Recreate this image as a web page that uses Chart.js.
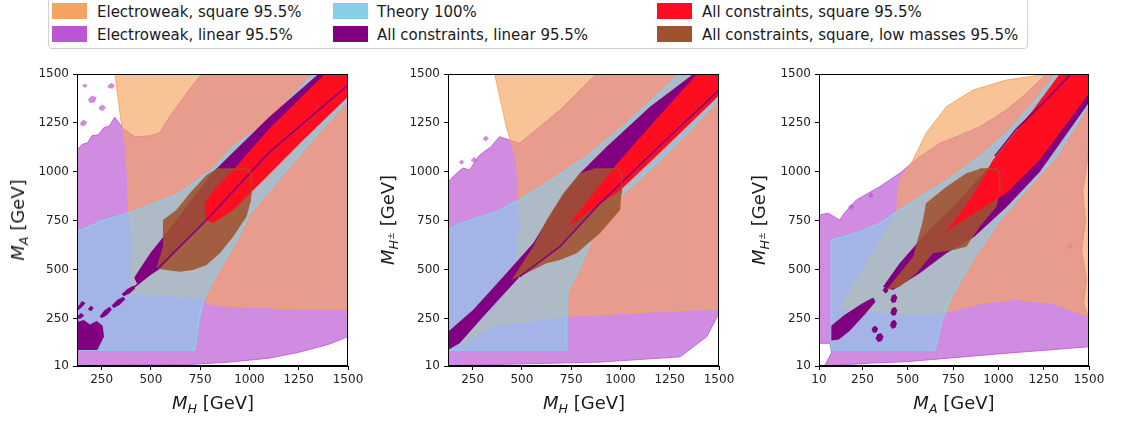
<!DOCTYPE html>
<html>
<head>
<meta charset="UTF-8">
<title>Mass planes</title>
<script src="https://cdn.jsdelivr.net/npm/chart.js"></script>
<style>
  body { margin:0; width:1121px; height:424px; background:#fff; position:relative; overflow:hidden;
         font-family:'DejaVu Sans', sans-serif; color:#1a1a1a; }
  canvas { position:absolute; top:60px; }
  .legend-box { position:absolute; left:48px; top:-9px; width:978px; height:56px;
                border:1px solid #d0d0d0; border-radius:4px; background:#fff; }
  .patch { position:absolute; width:35px; height:16px; }
  .ltext { position:absolute; font-size:15px; line-height:16px; white-space:nowrap; }
  .xtitle, .ytitle { position:absolute; font-size:18px; white-space:nowrap; line-height:20px; }
  .xtitle { top:393px; transform:translateX(-50%); }
  .ytitle { top:220px; transform:translate(-50%,-50%) rotate(-90deg); }
  sub { font-size:0.7em; vertical-align:-0.3em; line-height:0; }
  sup { font-size:0.75em; vertical-align:0.45em; line-height:0; }
</style>
</head>
<body>
<div class="legend-box"></div>
<div id="legend"></div>

<canvas id="p1" width="372" height="364" style="left:0px"></canvas>
<canvas id="p2" width="372" height="364" style="left:372px"></canvas>
<canvas id="p3" width="377" height="364" style="left:744px"></canvas>

<div class="xtitle" style="left:213px"><i>M</i><sub><i>H</i></sub> [GeV]</div>
<div class="xtitle" style="left:584px"><i>M</i><sub><i>H</i></sub> [GeV]</div>
<div class="xtitle" style="left:954px"><i>M</i><sub><i>A</i></sub> [GeV]</div>
<div class="ytitle" style="left:18px"><i>M</i><sub><i>A</i></sub> [GeV]</div>
<div class="ytitle" style="left:388px"><i>M</i><sub><i>H</i><sup>±</sup></sub> [GeV]</div>
<div class="ytitle" style="left:759px"><i>M</i><sub><i>H</i><sup>±</sup></sub> [GeV]</div>

<script>
// series names, in legend order (column by column)
const seriesNames = [
  'Electroweak, square 95.5%', 'Electroweak, linear 95.5%',
  'Theory 100%', 'All constraints, linear 95.5%',
  'All constraints, square 95.5%', 'All constraints, square, low masses 95.5%'
];

// axis ticks
const xTicksMH = [250, 500, 750, 1000, 1250, 1500];
const xTicksMA = [10, 250, 500, 750, 1000, 1250, 1500];
const yTicks = [10, 250, 500, 750, 1000, 1250, 1500];

// ---- panel 1: M_H vs M_A (region outlines in GeV; null splits islands) ----
const p1EwLinear = [[125,12],[700,18],[900,30],[1100,50],[1250,80],[1400,120],[1500,160],[1500,1500],[760,1500],[748,1490],[680,1400],[600,1290],[544,1200],[500,1185],[420,1180],[360,1220],[316,1280],[290,1235],[260,1225],[235,1190],[200,1185],[180,1150],[150,1140],[125,1110]];
const p1EwIslands = [[180,1370],[200,1390],[225,1380],[215,1355],[190,1352],null,
  [235,1330],[255,1345],[272,1330],[258,1312],[240,1315],null,
  [140,1250],[158,1268],[176,1255],[165,1235],[145,1236],null,
  [280,1440],[300,1455],[318,1442],[305,1425],[285,1428],null,
  [150,1440],[165,1452],[178,1440],[165,1428]];
const p1EwSquare = [[400,380],[400,700],[385,800],[380,1000],[370,1150],[350,1250],[330,1400],[318,1500],[1500,1500],[1500,300],[1300,300],[1000,310],[800,320],[760,355],[600,370],[450,378]];
const p1Theory = [[125,92],[722,92],[745,250],[770,355],[815,450],[917,620],[1002,790],[1188,1010],[1350,1200],[1500,1367],[1500,1500],[1324,1500],[1100,1260],[917,1130],[815,1015],[646,891],[400,795],[250,750],[125,695]];
const p1AllLinear = [[430,430],[544,505],[782,755],[1100,1100],[1500,1444],[1500,1500],[1350,1500],[1100,1280],[815,1000],[680,822],[578,687],[500,590],[440,500],[415,460]];
const p1LinIslands = [[125,92],[228,92],[262,160],[255,215],[225,240],[190,222],[160,245],[125,235],null,
  [240,262],[262,292],[290,312],[302,298],[278,270],[252,255],null,
  [300,318],[330,348],[360,364],[370,350],[342,322],[312,306],null,
  [352,378],[382,404],[410,420],[420,405],[392,380],[362,366],null,
  [125,305],[150,342],[168,332],[152,312],[125,290],null,
  [125,262],[146,280],[162,268],[144,252],[125,250],null,
  [180,300],[195,318],[210,306],[196,290]];
const p1AllSquare = [[775,760],[773,840],[820,910],[917,1010],[1100,1220],[1383,1500],[1500,1500],[1500,1384],[1256,1146],[1087,975],[917,806],[815,738]];
const p1LowMass = [[527,508],[561,619],[561,755],[629,806],[697,891],[782,984],[833,1015],[990,1015],[1008,995],[1008,857],[985,772],[917,670],[850,585],[782,525],[714,500],[646,491],[578,500]];
const p1LinLine = [[375,381],[544,517],[782,755],[1100,1100],[1500,1444]];
const p1BoxLine = [[833,1015],[990,1015],[1008,995],[1008,880]];

// ---- panel 2: M_H vs M_H± ----
const p2EwLinear = [[125,12],[900,30],[1303,57],[1438,160],[1500,280],[1500,1500],[880,1500],[846,1469],[778,1401],[693,1316],[591,1231],[489,1146],[437,1163],[386,1180],[340,1125],[319,1112],[280,1080],[235,1010],[200,1020],[160,985],[125,950],[125,720]];
const p2EwIslands = [[240,1060],[258,1078],[272,1062],[256,1046],null,
  [300,1170],[318,1186],[332,1170],[316,1155],null,
  [180,1050],[195,1064],[208,1050],[194,1037]];
const p2EwSquare = [[362,1500],[1500,1500],[1500,304],[1032,279],[693,262],[350,215],[180,110],[240,200],[354,290],[421,381],[473,551],[489,721],[481,857],[473,1061],[421,1231]];
const p2Theory = [[125,92],[727,92],[727,381],[794,517],[896,755],[1015,891],[1201,1061],[1370,1231],[1500,1376],[1500,1500],[1303,1500],[1032,1248],[829,1078],[625,942],[489,857],[354,789],[184,738],[125,704]];
const p2AllLinear = [[125,92],[184,126],[319,279],[489,466],[693,619],[896,840],[1201,1135],[1500,1418],[1500,1500],[1370,1500],[1150,1333],[930,1129],[794,993],[693,857],[557,636],[421,483],[252,296],[125,185]];
const p2AllSquare = [[735,721],[760,760],[862,891],[998,1061],[1200,1290],[1388,1500],[1500,1500],[1500,1390],[1201,1100],[998,905],[862,815],[760,738]];
const p2LowMass = [[447,449],[557,619],[625,755],[710,891],[794,993],[862,1015],[990,1015],[1005,995],[1005,890],[998,806],[896,687],[778,585],[693,551],[625,534],[523,483]];
const p2LinLine = [[489,466],[693,619],[896,840],[1201,1135],[1500,1418]];
const p2BoxLine = [[862,1015],[990,1015],[1005,995],[1005,890]];

// ---- panel 3: M_A vs M_H± ----
const p3EwLinear = [[41,10],[300,25],[492,32],[1044,75],[1500,108],[1500,245],[1470,330],[1485,450],[1460,600],[1480,750],[1465,900],[1490,1050],[1500,1150],[1500,1500],[1265,1500],[1154,1401],[1044,1316],[897,1231],[768,1180],[676,1146],[566,1078],[455,993],[345,925],[216,857],[150,790],[124,755],[60,790],[10,780],[10,126],[70,126],[80,80]];
const p3EwIslands = [[170,820],[188,838],[204,822],[188,806],null,
  [280,880],[298,896],[312,880],[296,865],null,
  [1380,620],[1398,640],[1414,622],[1396,604]];
const p3EwSquare = [[124,304],[300,290],[500,275],[700,280],[900,330],[1100,350],[1300,330],[1500,260],[1500,1500],[1320,1500],[1228,1494],[1044,1469],[860,1418],[713,1333],[600,1197],[529,1061],[455,959],[437,789],[300,577],[170,375]];
const p3Theory = [[78,92],[650,92],[690,250],[750,381],[867,568],[1007,755],[1173,930],[1320,1080],[1500,1350],[1500,1500],[1320,1500],[1191,1350],[1044,1197],[897,1078],[750,976],[600,891],[455,806],[345,738],[216,687],[78,653]];
const p3AllLinear = [[363,415],[455,534],[600,687],[750,823],[934,1010],[1228,1316],[1375,1500],[1500,1500],[1500,1355],[1228,1000],[1044,820],[867,670],[713,585],[566,483],[418,398]];
const p3LinIslands = [[78,140],[78,215],[150,270],[250,330],[310,360],[322,338],[260,270],[180,190],[120,145],null,
  [322,150],[332,172],[352,178],[366,160],[356,138],[336,132],null,
  [300,192],[308,210],[324,214],[336,200],[328,182],[312,178],null,
  [402,215],[410,238],[428,246],[440,228],[432,205],[414,200],null,
  [404,282],[412,304],[430,312],[442,294],[434,270],[416,266],null,
  [404,346],[412,370],[430,378],[442,360],[434,336],[416,332],null,
  [360,395],[372,412],[390,410],[392,392],[378,380]];
const p3AllSquare = [[704,687],[780,780],[867,891],[970,1061],[1191,1316],[1338,1500],[1500,1500],[1500,1401],[1228,1061],[1044,891],[897,806],[750,721]];
const p3LowMass = [[382,398],[529,568],[584,755],[600,840],[713,925],[823,993],[897,1015],[990,1015],[1007,995],[1007,891],[989,823],[897,721],[823,619],[750,602],[639,585],[547,483],[455,415]];
const p3LinLine = [[980,1080],[1100,1220],[1250,1355],[1400,1500]];
const p3BoxLine = [[897,1015],[990,1015],[1007,995],[1007,891]];

// colours
const legendColors = ['#f4a460', '#ba55d3', '#87ceeb', '#800080', '#fc0d1f', '#a0522d'];
const fillColors = {
  ewSquare: 'rgba(244,164,96,0.65)', ewLinear: 'rgba(186,85,211,0.68)', theory: 'rgba(135,206,235,0.6)',
  allLinear: '#800080', allSquare: '#fc0d1f', lowMass: 'rgba(160,82,45,0.88)'
};
const edgeColors = {
  ewSquare: 'rgba(244,164,96,0.9)', ewLinear: 'rgba(186,85,211,0.85)', theory: 'rgba(135,206,235,1)'
};

// legend (html)
const legendCols = [[52, 97], [333, 377], [657, 702]];
const legendRows = [3, 26];
const legendEl = document.getElementById('legend');
seriesNames.forEach((name, i) => {
  const c = legendCols[Math.floor(i / 2)], top = legendRows[i % 2];
  const p = document.createElement('div');
  p.className = 'patch';
  p.style.left = c[0] + 'px'; p.style.top = top + 'px'; p.style.background = legendColors[i];
  const t = document.createElement('div');
  t.className = 'ltext';
  t.style.left = c[1] + 'px'; t.style.top = (top + 1) + 'px';
  t.textContent = name;
  legendEl.appendChild(p); legendEl.appendChild(t);
});

function toXY(pts) {
  return pts.map(p => p ? {x: p[0], y: p[1]} : {x: NaN, y: NaN});
}
function ring(pts) { return pts.concat([pts[0]]); }

function area(label, pts, bg, edge, ew, order) {
  return {
    label, data: toXY(ring(pts)), fill: 'shape', backgroundColor: bg,
    borderColor: edge || 'rgba(0,0,0,0)', borderWidth: ew || 0,
    pointRadius: 0, tension: 0, order
  };
}
function islands(label, pts, bg, order) {
  return { label, data: toXY(pts), fill: 'shape', backgroundColor: bg,
    borderWidth: 0, pointRadius: 0, tension: 0, order };
}
function line(label, pts, color, w, order) {
  return {
    label, data: toXY(pts), fill: false, borderColor: color, borderWidth: w,
    pointRadius: 0, tension: 0, order
  };
}

const framePlugin = {
  id: 'frame',
  afterDatasetsDraw(chart) {
    const {ctx, chartArea: a} = chart;
    ctx.save();
    ctx.strokeStyle = '#000';
    ctx.lineWidth = 1;
    ctx.strokeRect(a.left + 0.5, a.top + 0.5, a.right - a.left - 1, a.bottom - a.top - 1);
    ctx.restore();
  }
};

function makePanel(id, r, xMin, xTicks, yWidth, padRight) {
  const datasets = [
    area(seriesNames[1], r.ewLinear, fillColors.ewLinear, edgeColors.ewLinear, 1, 9),
    islands(seriesNames[1] + ' islands', r.ewIslands, fillColors.ewLinear, 9),
    area(seriesNames[0], r.ewSquare, fillColors.ewSquare, edgeColors.ewSquare, 1, 8),
    area(seriesNames[2], r.theory, fillColors.theory, edgeColors.theory, 1.5, 7),
    area(seriesNames[3], r.allLinear, fillColors.allLinear, null, 0, 6),
    islands(seriesNames[3] + ' islands', r.linIslands || [], fillColors.allLinear, 6),
    area(seriesNames[5], r.lowMass, fillColors.lowMass, null, 0, 5),
    area(seriesNames[4], r.allSquare, fillColors.allSquare, null, 0, 4),
    line(seriesNames[3] + ' edge', r.linLine, '#800080', 1.5, 3),
    line(seriesNames[5] + ' edge', r.boxLine, 'rgba(160,82,45,0.85)', 1.5, 2)
  ];
  const tickFont = {family: 'DejaVu Sans', size: 12};
  new Chart(document.getElementById(id), {
    type: 'line',
    data: {datasets},
    options: {
      responsive: false,
      animation: false,
      events: [],
      layout: {padding: {top: 14, right: padRight, left: 0, bottom: 0}},
      plugins: {legend: {display: false}, tooltip: {enabled: false}},
      scales: {
        x: {
          type: 'linear', min: xMin, max: 1500,
          afterBuildTicks: s => { s.ticks = xTicks.map(v => ({value: v})); },
          afterFit: s => { s.height = 58; },
          grid: {drawOnChartArea: false, drawTicks: true, tickLength: 4, color: '#000'},
          border: {display: true, color: '#000'},
          ticks: {font: tickFont, color: '#222', padding: 3, maxRotation: 0, autoSkip: false,
                  callback: v => String(v)}
        },
        y: {
          type: 'linear', min: 10, max: 1500,
          afterBuildTicks: s => { s.ticks = yTicks.map(v => ({value: v})); },
          afterFit: s => { s.width = yWidth; },
          grid: {drawOnChartArea: false, drawTicks: true, tickLength: 4, color: '#000'},
          border: {display: true, color: '#000'},
          ticks: {font: tickFont, color: '#222', padding: 4, autoSkip: false,
                  callback: v => String(v)}
        }
      }
    },
    plugins: [framePlugin]
  });
}

makePanel('p1', {ewLinear: p1EwLinear, ewIslands: p1EwIslands, ewSquare: p1EwSquare, theory: p1Theory,
  allLinear: p1AllLinear, linIslands: p1LinIslands, allSquare: p1AllSquare, lowMass: p1LowMass,
  linLine: p1LinLine, boxLine: p1BoxLine}, 125, xTicksMH, 77, 24);
makePanel('p2', {ewLinear: p2EwLinear, ewIslands: p2EwIslands, ewSquare: p2EwSquare, theory: p2Theory,
  allLinear: p2AllLinear, allSquare: p2AllSquare, lowMass: p2LowMass,
  linLine: p2LinLine, boxLine: p2BoxLine}, 125, xTicksMH, 76, 25);
makePanel('p3', {ewLinear: p3EwLinear, ewIslands: p3EwIslands, ewSquare: p3EwSquare, theory: p3Theory,
  allLinear: p3AllLinear, linIslands: p3LinIslands, allSquare: p3AllSquare, lowMass: p3LowMass,
  linLine: p3LinLine, boxLine: p3BoxLine}, 10, xTicksMA, 75, 32);
</script>
</body>
</html>
